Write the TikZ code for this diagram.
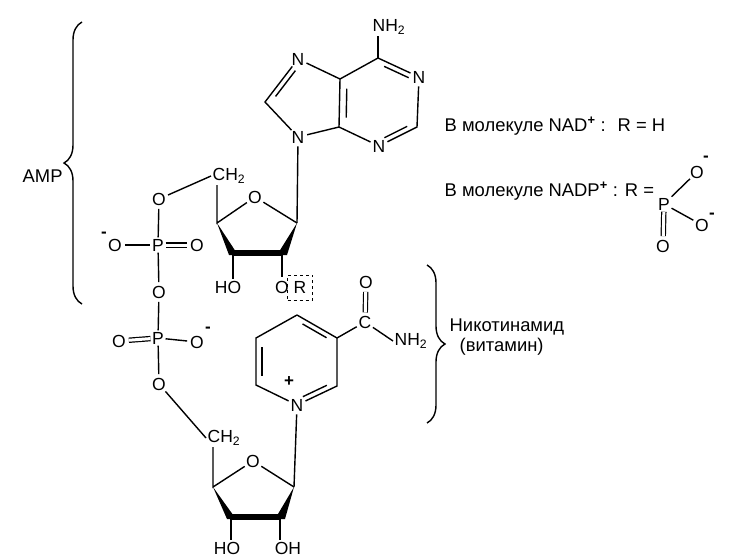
\documentclass[tikz,border=0pt]{standalone}
\usepackage{fontspec}
\setmainfont{Liberation Sans}
\usetikzlibrary{calc}
\usetikzlibrary{decorations.pathreplacing}
\tikzstyle{atom}=[circle,inner sep=0pt,font=\fontsize{17.5}{18}\selectfont]
\tikzstyle{group}=[inner sep=1pt,font=\fontsize{17.5}{18}\selectfont]
\tikzstyle{label}=[inner sep=0pt,anchor=west,align=left,font=\fontsize{18.4}{20}\selectfont]
\tikzstyle{charge}=[inner sep=0pt,font=\fontsize{17}{15}\selectfont\bfseries]
\tikzstyle{bond}=[line width=1.4pt]
\tikzstyle{dbond}=[line width=1.2pt,double,double distance=3pt]
\tikzstyle{wide}=[line width=6.5pt]
\tikzstyle{bracket}=[line width=1.4pt,decorate,decoration={brace,amplitude=18pt}]
\newcommand{\dbl}[3]{\draw[bond] ($(#1)!0.2!(#2)!#3!90:(#2)$) -- ($(#2)!0.2!(#1)!-#3!90:(#1)$);}
\newcommand{\plusup}{\textsuperscript{\textbf{+}}}
\begin{document}
\begin{tikzpicture}[x=1pt,y=-1pt,every path/.style={bond}]
\useasboundingbox (0,0) rectangle (744,557);
% adenine
\node[group] (nha) at (389,27) {NH\textsubscript{2}};
\coordinate (c6) at (378,58);
\node[atom] (n1) at (419,77) {N};
\coordinate (c2) at (417,127);
\node[atom] (n3) at (379,146) {N};
\coordinate (c4) at (339,127);
\coordinate (c5) at (340,79);
\node[atom] (n7) at (298,59) {N};
\coordinate (c8) at (265,102);
\node[atom] (n9) at (298,137) {N};
\draw (c6) -- (c6 |- nha.south);
\draw (c6) -- (n1) -- (c2) -- (n3) -- (c4) -- (c5) -- (c6);
\draw (c5) -- (n7) -- (c8) -- (n9) -- (c4);
\dbl{c6}{n1}{-5pt}
\dbl{c2}{n3}{-5pt}
\dbl{c4}{c5}{-7pt}
\dbl{n7}{c8}{5pt}
% upper ribose
\coordinate (ua) at (217,223);
\node[atom] (uo) at (255,197) {O};
\coordinate (ub) at (297,223);
\coordinate (uc) at (282,253);
\coordinate (ud) at (233,253);
\node[group] (uch) at (229,176) {CH\textsubscript{2}};
\node[group] (uho) at (228,287) {HO};
\node[atom] (uor) at (282,287) {O};
\node[draw,dashed,line width=1pt,minimum size=25pt,inner sep=0pt,font=\fontsize{17.5}{18}\selectfont] (rbox) at (300,287.5) {R\hspace{5pt}};
\draw (n9) -- (ub);
\draw (uch.south -| ua) -- (ua) -- (uo) -- (ub);
\fill (ua) -- ($(ud)+(-4,2)$) -- ($(ud)+(5,2)$) -- cycle;
\fill (ub) -- ($(uc)+(-5,2)$) -- ($(uc)+(5,2)$) -- cycle;
\draw[wide] (ud) -- (uc);
\draw (ud) -- (ud |- uho.north);
\draw (uc) -- (uor);
% phosphates
\node[atom] (oa) at (159,199) {O};
\node[group] (pa) at (158,245) {P};
\node[atom] (ob) at (115,245) {O};
\node[charge] (mb) at (104,235) {-};
\node[atom] (oc) at (197,245) {O};
\node[atom] (od) at (159,292) {O};
\node[group] (pb) at (158,338) {P};
\node[atom] (oe) at (119,341) {O};
\node[atom] (of) at (197,342) {O};
\node[charge] (mf) at (208,330) {-};
\node[atom] (og) at (159,384) {O};
\draw (oa) -- (uch.west);
\draw (oa) -- (pa) -- (od) -- (pb) -- (og);
\draw (ob) -- (pa);
\draw (pb) -- (of);
\draw[dbond] (pa) -- (oc);
\draw[dbond] (pb) -- (oe);
% nicotinamide
\coordinate (ra) at (297,315);
\coordinate (rb) at (337,338);
\coordinate (rc) at (337,386);
\node[atom] (rn) at (297,405) {N};
\coordinate (rd) at (256,385);
\coordinate (re) at (256,338);
\node[charge] (plus) at (289,382) {+};
\node[atom] (cc) at (365,322) {C};
\node[atom] (co) at (366,282) {O};
\node[group] (nhb) at (411,341) {NH\textsubscript{2}};
\draw (ra) -- (rb) -- (rc) -- (rn) -- (rd) -- (re) -- (ra);
\dbl{ra}{rb}{-5pt}
\dbl{rc}{rn}{-5pt}
\dbl{rd}{re}{-6pt}
\draw (rb) -- (cc) -- (nhb.west);
\draw[dbond] (cc) -- (co);
% lower ribose
\coordinate (la) at (213,487);
\node[atom] (lo) at (253,461) {O};
\coordinate (lb) at (294,487);
\coordinate (lc) at (280,517);
\coordinate (ld) at (231,517);
\node[group] (lch) at (224,438) {CH\textsubscript{2}};
\node[group] (lho) at (227,548) {HO};
\node[group] (loh) at (288,548) {OH};
\draw (rn) -- (lb);
\draw (og) -- (lch.west);
\draw (lch.south -| la) -- (la) -- (lo) -- (lb);
\fill (la) -- ($(ld)+(-4,2)$) -- ($(ld)+(5,2)$) -- cycle;
\fill (lb) -- ($(lc)+(-5,2)$) -- ($(lc)+(5,2)$) -- cycle;
\draw[wide] (ld) -- (lc);
\draw (ld) -- (ld |- lho.north);
\draw (lc) -- (lc |- loh.north);
% braces
\coordinate (ampt) at (82,22);
\coordinate (ampb) at (82,304);
\coordinate (vitt) at (427,265);
\coordinate (vitb) at (427,423);
\draw[bracket] (ampb) -- (ampt);
\draw[bracket] (vitt) -- (vitb);
\node[label] (amp) at (22,176) {AMP};
\node[label] (vit) at (449,327) {Никотинамид};
\node[label] (vitam) at (459,347) {(витамин)};
% legend
\node[label] (nad) at (444,126) {В молекуле NAD\plusup{} : \ R = H};
\node[label] (nadp) at (444,191) {В молекуле NADP\plusup{} : R =};
\node[group] (qp) at (664,204) {P};
\node[atom] (qa) at (697,172) {O};
\node[charge] (qam) at (706,159) {-};
\node[atom] (qb) at (702,225) {O};
\node[charge] (qbm) at (712,216) {-};
\node[atom] (qc) at (663,246) {O};
\draw (qp) -- (qa);
\draw (qp) -- (qb);
\draw[dbond] (qp) -- (qc);
\end{tikzpicture}
\end{document}
